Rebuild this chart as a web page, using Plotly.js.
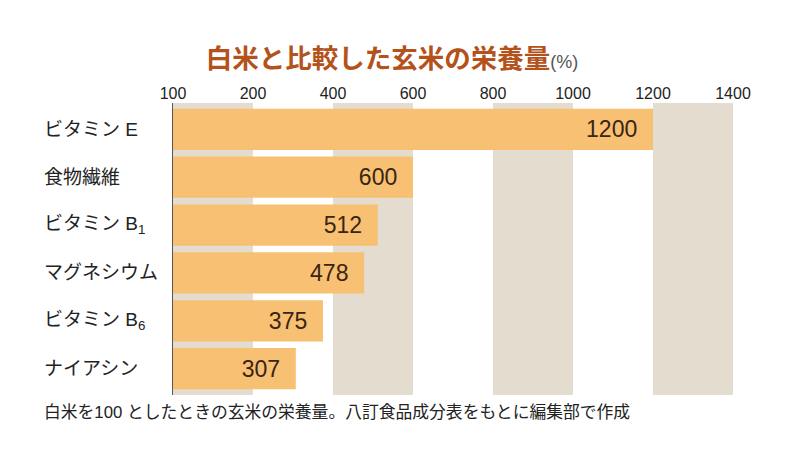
<!DOCTYPE html>
<html><head><meta charset="utf-8">
<script src="https://cdn.plot.ly/plotly-3.0.1.min.js"></script>
<style>html,body{margin:0;padding:0;background:#fff}#c{width:800px;height:467px}</style>
</head><body><div id="c"></div>
<script>
const nutrients = ['ビタミン E', '食物繊維', 'ビタミン B<sub>1</sub>', 'マグネシウム', 'ビタミン B<sub>6</sub>', 'ナイアシン'];
const values = [1200, 600, 512, 478, 375, 307];
const tickVals = [0, 200, 400, 600, 800, 1000, 1200, 1400];
const tickText = ['100', '200', '400', '600', '800', '1000', '1200', '1400'];
const bandRanges = [[0, 200], [400, 600], [800, 1000], [1200, 1400]];

const FONT = '"Liberation Sans", "Noto Sans CJK JP", sans-serif';
const JFONT = '"Noto Sans CJK JP", "Noto Sans", sans-serif';
const W = 800, L = 173, R = 67;
const plotW = W - L - R;

const trace = {
  type: 'bar', orientation: 'h',
  x: values, y: nutrients.map((_, i) => i),
  marker: {color: '#F7C073', line: {width: 0}},
  text: values.map(v => v + '\u00a0\u00a0'),
  textposition: 'inside', insidetextanchor: 'end',
  textfont: {family: FONT, size: 23, color: '#3a2412'},
  hoverinfo: 'skip', width: 0.86
};

const shapes = bandRanges.map(r => ({
  type: 'rect', layer: 'below', xref: 'x', yref: 'paper',
  x0: r[0], x1: r[1], y0: 0, y1: 1,
  fillcolor: '#E3DCCF', line: {width: 0}
}));

const annotations = nutrients.map((n, i) => ({
  xref: 'paper', yref: 'y', x: (42 - L) / plotW, y: i,
  xanchor: 'left', yanchor: 'middle', showarrow: false,
  text: n, font: {family: FONT, size: 19, color: '#222'}
}));
annotations.push({
  xref: 'paper', yref: 'paper', x: (42 - L) / plotW, y: -0.06,
  xanchor: 'left', yanchor: 'middle', showarrow: false,
  text: '白米を100 としたときの玄米の栄養量。八訂食品成分表をもとに編集部で作成',
  font: {family: FONT, size: 16.8, color: '#222'}
});

const layout = {
  width: 800, height: 467,
  margin: {l: L, r: R, t: 103, b: 72},
  paper_bgcolor: '#fff', plot_bgcolor: 'rgba(0,0,0,0)',
  title: {
    text: '<b>白米と比較した玄米の栄養量</b><span style="font-size:18px;color:#555;font-family:Liberation Sans">(%)</span>',
    font: {family: JFONT, size: 26.5, color: '#B4521C'},
    x: 0.49, xanchor: 'center', y: 0.875, yanchor: 'middle'
  },
  xaxis: {
    range: [0, 1400], side: 'top', tickvals: tickVals, ticktext: tickText,
    tickfont: {family: FONT, size: 16, color: '#222'},
    showgrid: false, zeroline: false, showline: false, ticks: '', ticklen: 0,
    fixedrange: true
  },
  yaxis: {
    range: [5.55, -0.55], showticklabels: false, showgrid: false,
    zeroline: false, showline: true, linecolor: '#555', linewidth: 1,
    ticks: '', fixedrange: true
  },
  bargap: 0.14,
  shapes: shapes,
  annotations: annotations,
  showlegend: false
};

Plotly.newPlot('c', [trace], layout, {displayModeBar: false, staticPlot: true});
</script></body></html>
